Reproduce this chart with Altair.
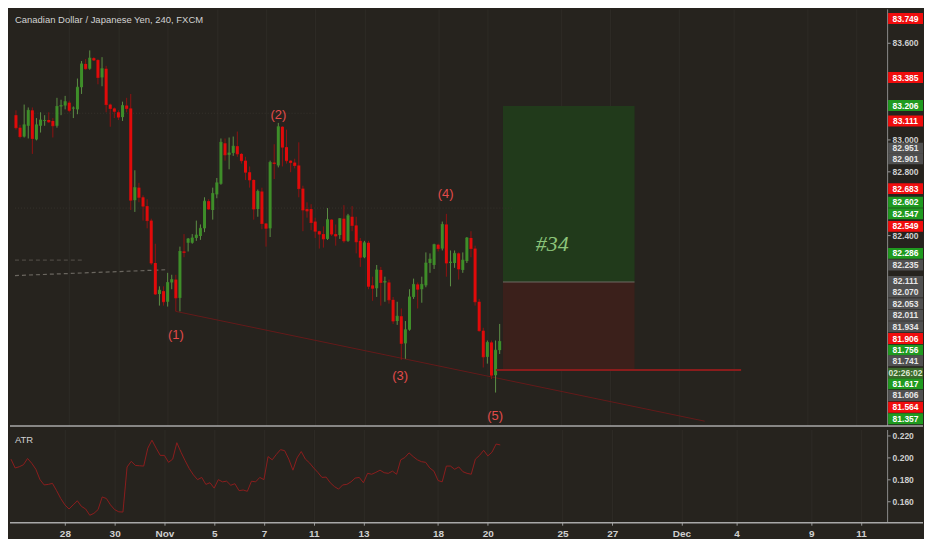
import altair as alt
import pandas as pd

TITLE = "Canadian Dollar / Japanese Yen, 240, FXCM"

opens = [83.149, 83.071, 83.016, 83.083, 83.179, 82.998, 83.083, 83.113, 83.119, 83.113,
         83.083, 83.203, 83.209, 83.227, 83.191, 83.185, 83.323, 83.468, 83.438, 83.504,
         83.492, 83.384, 83.438, 83.215, 83.191, 83.167, 83.137, 83.209, 83.191, 82.620,
         82.698, 82.638, 82.583, 82.493, 82.229, 82.036, 82.054, 81.988, 82.108, 82.126,
         82.012, 82.301, 82.355, 82.355, 82.385, 82.397, 82.445, 82.614, 82.559, 82.656,
         82.722, 82.974, 82.902, 82.914, 82.956, 82.908, 82.866, 82.794, 82.746, 82.565,
         82.674, 82.475, 82.445, 82.854, 82.836, 83.077, 82.950, 82.866, 82.854, 82.836,
         82.692, 82.565, 82.565, 82.487, 82.427, 82.409, 82.379, 82.499, 82.409, 82.403,
         82.505, 82.367, 82.517, 82.463, 82.367, 82.265, 82.355, 82.090, 82.072, 82.186,
         82.108, 82.108, 82.000, 81.868, 81.898, 81.729, 81.814, 82.018, 82.096, 82.066,
         82.090, 82.229, 82.217, 82.343, 82.319, 82.469, 82.229, 82.229, 82.289, 82.186,
         82.241, 82.385, 82.319, 81.988, 81.808, 81.645, 81.735, 81.531, 81.687]
closes = [83.071, 83.016, 83.089, 83.179, 83.004, 83.089, 83.119, 83.116, 83.107, 83.083,
          83.203, 83.209, 83.233, 83.179, 83.194, 83.323, 83.468, 83.438, 83.504, 83.492,
          83.384, 83.438, 83.215, 83.191, 83.173, 83.137, 83.209, 83.191, 82.620, 82.698,
          82.638, 82.583, 82.493, 82.229, 82.036, 82.060, 81.988, 82.108, 82.126, 82.012,
          82.301, 82.295, 82.379, 82.385, 82.403, 82.445, 82.614, 82.565, 82.662, 82.728,
          82.980, 82.902, 82.914, 82.956, 82.908, 82.866, 82.794, 82.746, 82.565, 82.674,
          82.475, 82.445, 82.854, 82.848, 83.077, 82.950, 82.866, 82.854, 82.836, 82.692,
          82.559, 82.553, 82.481, 82.427, 82.409, 82.379, 82.499, 82.409, 82.397, 82.505,
          82.367, 82.523, 82.463, 82.361, 82.265, 82.355, 82.084, 82.072, 82.186, 82.108,
          82.114, 82.000, 81.868, 81.898, 81.729, 81.814, 82.018, 82.096, 82.066, 82.096,
          82.229, 82.253, 82.343, 82.319, 82.469, 82.229, 82.235, 82.289, 82.192, 82.247,
          82.385, 82.319, 81.988, 81.808, 81.645, 81.735, 81.531, 81.687, 81.741]
highs = [83.179, 83.089, 83.215, 83.197, 83.197, 83.131, 83.167, 83.149, 83.167, 83.131,
         83.257, 83.245, 83.269, 83.239, 83.203, 83.377, 83.486, 83.498, 83.552, 83.510,
         83.498, 83.510, 83.456, 83.221, 83.197, 83.179, 83.233, 83.257, 83.281, 82.806,
         82.728, 82.650, 82.626, 82.505, 82.349, 82.084, 82.084, 82.168, 82.156, 82.156,
         82.331, 82.409, 82.385, 82.409, 82.493, 82.469, 82.638, 82.626, 82.698, 82.758,
         83.004, 83.004, 83.010, 83.016, 83.047, 82.914, 82.890, 82.830, 82.750, 82.686,
         82.698, 82.478, 82.866, 82.968, 83.101, 83.080, 83.059, 82.868, 82.878, 82.980,
         82.710, 82.607, 82.595, 82.511, 82.430, 82.457, 82.571, 82.502, 82.469, 82.508,
         82.589, 82.535, 82.583, 82.517, 82.385, 82.367, 82.367, 82.144, 82.217, 82.205,
         82.144, 82.126, 82.018, 81.988, 81.946, 81.868, 82.066, 82.132, 82.108, 82.144,
         82.295, 82.289, 82.349, 82.349, 82.487, 82.535, 82.307, 82.307, 82.295, 82.295,
         82.391, 82.427, 82.337, 82.006, 81.826, 81.747, 81.747, 81.747, 81.850]
lows = [83.059, 83.004, 83.010, 83.004, 82.908, 82.992, 83.041, 83.083, 83.101, 83.010,
        83.071, 83.149, 83.185, 83.167, 83.131, 83.155, 83.281, 83.432, 83.432, 83.486,
        83.341, 83.329, 83.167, 83.077, 83.131, 83.119, 83.113, 83.167, 82.559, 82.547,
        82.607, 82.493, 82.445, 82.217, 82.030, 81.964, 81.964, 81.958, 82.066, 81.928,
        81.928, 82.265, 82.301, 82.349, 82.367, 82.373, 82.421, 82.560, 82.499, 82.632,
        82.716, 82.866, 82.812, 82.896, 82.890, 82.848, 82.746, 82.698, 82.499, 82.517,
        82.439, 82.331, 82.391, 82.752, 82.824, 82.830, 82.848, 82.794, 82.818, 82.638,
        82.427, 82.511, 82.433, 82.385, 82.319, 82.325, 82.373, 82.397, 82.337, 82.379,
        82.355, 82.361, 82.427, 82.289, 82.205, 82.259, 82.066, 81.994, 82.018, 81.964,
        81.988, 81.976, 81.850, 81.844, 81.627, 81.633, 81.808, 82.006, 81.946, 81.982,
        82.078, 82.168, 82.192, 82.301, 82.307, 82.144, 82.084, 82.199, 82.126, 82.168,
        82.229, 82.265, 81.964, 81.802, 81.579, 81.603, 81.507, 81.423, 81.663]
atr_values = [0.1985, 0.1905, 0.1916, 0.1934, 0.1991, 0.1948, 0.1893, 0.1799, 0.1751, 0.1756,
              0.1765, 0.1699, 0.1628, 0.1570, 0.1533, 0.1570, 0.1607, 0.1556, 0.1533, 0.1476,
              0.1493, 0.1527, 0.1642, 0.1628, 0.1570, 0.1527, 0.1507, 0.1505, 0.1914, 0.1965,
              0.1928, 0.1925, 0.1922, 0.2085, 0.2157, 0.2085, 0.2019, 0.2019, 0.1956, 0.1985,
              0.2134, 0.2048, 0.1971, 0.1899, 0.1842, 0.1799, 0.1819, 0.1756, 0.1771, 0.1722,
              0.1799, 0.1779, 0.1785, 0.1748, 0.1762, 0.1699, 0.1705, 0.1693, 0.1785, 0.1779,
              0.1819, 0.1799, 0.2008, 0.1979, 0.2028, 0.2071, 0.2062, 0.1985, 0.1885, 0.1996,
              0.2054, 0.1985, 0.1951, 0.1905, 0.1865, 0.1819, 0.1822, 0.1771, 0.1736, 0.1713,
              0.1751, 0.1756, 0.1779, 0.1813, 0.1819, 0.1771, 0.1856, 0.1848, 0.1865, 0.1885,
              0.1862, 0.1856, 0.1876, 0.1848, 0.1979, 0.2000, 0.2042, 0.2008, 0.1979, 0.1962,
              0.1956, 0.1905, 0.1876, 0.1791, 0.1779, 0.1922, 0.1922, 0.1893, 0.1914, 0.1871,
              0.1856, 0.1848, 0.1985, 0.2019, 0.2065, 0.2014, 0.2048, 0.2122, 0.2114]

tick_index = [13, 25, 37, 49, 61, 73, 85, 103, 115, 133, 145, 161.7, 175, 193, 205]
tick_text = ["28", "30", "Nov", "5", "7", "11", "13", "18", "20", "25", "27", "Dec", "4", "9", "11"]
price_ticks = [83.6, 83.0, 82.8, 82.4]
atr_ticks = [0.16, 0.18, 0.20, 0.22]

wave_text = ["(1)", "(2)", "(3)", "(4)", "(5)"]
wave_index = [39.0, 64.0, 93.7, 104.8, 116.9]
wave_price = [81.784, 83.149, 81.525, 82.656, 81.278]

trend_index = [39, 168]
trend_price = [81.928, 81.245]

pos_index = [118.8, 150.9]
pos_target, pos_entry, pos_stop = 83.206, 82.111, 81.564
stop_line_index = [117.1, 176.9]
trade_label, trade_label_index, trade_label_price = "#34", 130.8, 82.347

label_text = ["83.749", "83.385", "83.206", "83.111", "82.951", "82.901", "82.683", "82.602",
              "82.547", "82.549", "82.286", "82.235", "82.111", "82.070", "82.053", "82.011",
              "81.934", "81.906", "81.756", "81.741", "02:26:02", "81.617", "81.606", "81.564",
              "81.357"]
label_price = [83.750, 83.383, 83.209, 83.113, 82.944, 82.878, 82.692, 82.607,
               82.535, 82.457, 82.289, 82.217, 82.114, 82.048, 81.976, 81.904,
               81.832, 81.759, 81.687, 81.621, 81.543, 81.477, 81.405, 81.332,
               81.260]
label_kind = ["red", "red", "green", "red", "gray", "gray", "red", "green",
              "green", "red", "green", "gray", "gray", "gray", "gray", "gray",
              "gray", "red", "green", "gray", "timer", "green", "gray", "red",
              "green"]

# dashed drawing lines: (segment, index, price)
dash_seg = ["c", "c", "d", "d"]
dash_index = [-0.24, 16.8, -0.24, 36.4]
dash_price = [82.247, 82.247, 82.151, 82.187]
dot_seg = ["a", "a", "b", "b"]
dot_index = [4.5, 73.7, -0.24, 121.0]
dot_price = [83.161, 83.161, 82.571, 82.571]

# ---------------- styling ----------------
BG = "#26231e"
GRID = "#2e2b26"
TXT = "#cfcfcf"
W, H_MAIN, H_ATR = 880, 418, 93
FONT = "Liberation Sans"

kind_bg = {"red": "#f00d0d", "green": "#1f9a1f", "gray": "#505050", "timer": "#3b6a2b"}
kind_fg = {"red": "#ffffff", "green": "#ffffff", "gray": "#e6e6e6", "timer": "#dbe8d2"}

candles = pd.DataFrame({"i": list(range(len(closes))), "open": opens, "high": highs,
                        "low": lows, "close": closes})
up = candles["close"] >= candles["open"]
candles["body"] = up.map({True: "#3e8e29", False: "#e10a0a"})
candles["wick"] = up.map({True: "#5c8f45", False: "#8f1212"})

XS = alt.Scale(domain=[-0.24, 211.3], nice=False, zero=False)
YS = alt.Scale(domain=[81.218, 83.8105], nice=False, zero=False)
x_axis_main = alt.Axis(values=tick_index, grid=True, gridColor=GRID, labels=False,
                       ticks=False, domain=False, title=None)
y_axis_main = alt.Axis(orient="right", values=price_ticks, format=".3f", grid=False,
                       title=None, labelColor=TXT, labelFontSize=8.5, labelFont=FONT,
                       labelFontWeight="bold", tickColor="#9a9a9a", tickSize=3,
                       labelPadding=2, domainColor="#8a8a8a")


def X(f):
    return alt.X(f"{f}:Q", scale=XS, axis=x_axis_main)


def Y(f):
    return alt.Y(f"{f}:Q", scale=YS, axis=y_axis_main)


pos_df = pd.DataFrame({"x1": [pos_index[0], pos_index[0]], "x2": [pos_index[1], pos_index[1]],
                       "y1": [pos_entry, pos_stop], "y2": [pos_target, pos_entry],
                       "c": ["#213a1b", "#3b201b"]})
zones = alt.Chart(pos_df).mark_rect().encode(
    x=X("x1"), x2="x2", y=Y("y1"), y2="y2", color=alt.Color("c:N", scale=None))
entry_line = alt.Chart(pd.DataFrame({"x1": [pos_index[0]], "x2": [pos_index[1]], "y": [pos_entry]})
                       ).mark_rule(color="#6e6a63", strokeWidth=1).encode(x=X("x1"), x2="x2", y=Y("y"))
stop_line = alt.Chart(pd.DataFrame({"x1": [stop_line_index[0]], "x2": [stop_line_index[1]], "y": [pos_stop]})
                      ).mark_rule(color="#8a1c1c", strokeWidth=2).encode(x=X("x1"), x2="x2", y=Y("y"))

trend = alt.Chart(pd.DataFrame({"i": trend_index, "p": trend_price})).mark_line(
    color="#641a1a", strokeWidth=1, clip=True).encode(x=X("i"), y=Y("p"))

dash_df = pd.DataFrame({"seg": dash_seg, "i": dash_index, "p": dash_price,
                        "c": ["#4c4842", "#4c4842", "#6a665f", "#6a665f"]})
dashed = alt.Chart(dash_df).mark_line(strokeDash=[4, 3], strokeWidth=1.2).encode(
    x=X("i"), y=Y("p"), detail="seg:N", color=alt.Color("c:N", scale=None))
dot_df = pd.DataFrame({"seg": dot_seg, "i": dot_index, "p": dot_price})
dotted = alt.Chart(dot_df).mark_line(strokeDash=[1, 2], strokeWidth=1, color="#36332d").encode(
    x=X("i"), y=Y("p"), detail="seg:N")

wicks = alt.Chart(candles).mark_rule(strokeWidth=1).encode(
    x=X("i"), y=Y("low"), y2="high", color=alt.Color("wick:N", scale=None))
bodies = alt.Chart(candles).mark_bar(size=3).encode(
    x=X("i"), y=Y("open"), y2="close", color=alt.Color("body:N", scale=None))
doji = alt.Chart(candles).mark_tick(orient="horizontal", size=3, thickness=1).encode(
    x=X("i"), y=Y("close"), color=alt.Color("body:N", scale=None))

waves = alt.Chart(pd.DataFrame({"i": wave_index, "p": wave_price, "t": wave_text})).mark_text(
    fontSize=13, font=FONT, color="#e24b4b").encode(x=X("i"), y=Y("p"), text="t:N")
trade_txt = alt.Chart(pd.DataFrame({"i": [trade_label_index], "p": [trade_label_price],
                                    "t": [trade_label]})).mark_text(
    fontSize=22, font="Liberation Serif", fontStyle="italic", color="#8cc47a").encode(
    x=X("i"), y=Y("p"), text="t:N")

lab_df = pd.DataFrame({"t": label_text, "p": label_price, "k": label_kind})
lab_df["bg"] = lab_df["k"].map(kind_bg)
lab_df["fg"] = lab_df["k"].map(kind_fg)
lab_box = alt.Chart(lab_df).mark_tick(orient="horizontal", size=35, thickness=11, opacity=1).encode(
    x=alt.value(898.5), y=Y("p"), color=alt.Color("bg:N", scale=None))
lab_txt = alt.Chart(lab_df).mark_text(fontSize=8.5, font=FONT, fontWeight="bold",
                                      align="center", baseline="middle").encode(
    x=alt.value(898.5), y=Y("p"), text="t:N", color=alt.Color("fg:N", scale=None))

one = pd.DataFrame({"t": [TITLE]})
title_txt = alt.Chart(one).mark_text(align="left", baseline="middle", fontSize=9.5, font=FONT,
                                     color="#d2d2d2").encode(
    x=alt.value(5), y=alt.value(11), text="t:N")
sep_main = alt.Chart(one).mark_rule(color="#a8a8a8", strokeWidth=1.5).encode(
    x=alt.value(0), x2=alt.value(916), y=alt.value(H_MAIN + 0.5))

main = alt.layer(zones, entry_line, dotted, dashed, trend, wicks, bodies, doji, stop_line,
                 waves, trade_txt, lab_box, lab_txt, title_txt, sep_main
                 ).properties(width=W, height=H_MAIN)

# ---------------- ATR panel ----------------
label_expr = " : ".join(f"datum.value == {v} ? '{t}'" for v, t in zip(tick_index, tick_text)) + " : ''"
x_axis_atr = alt.Axis(values=tick_index, labelExpr=label_expr, grid=True, gridColor=GRID,
                      domain=False, tickColor="#9a9a9a", tickSize=3, labelColor=TXT,
                      labelFontSize=10, labelFont=FONT, labelFontWeight="bold",
                      labelPadding=3, title=None, labelFlush=False)
YA = alt.Scale(domain=[0.1413, 0.2254], nice=False, zero=False)
y_axis_atr = alt.Axis(orient="right", values=atr_ticks, format=".3f", grid=False, title=None,
                      labelColor=TXT, labelFontSize=8.5, labelFont=FONT, labelFontWeight="bold",
                      tickColor="#9a9a9a", tickSize=3, labelPadding=2, domainColor="#8a8a8a")

atr_df = pd.DataFrame({"i": list(range(len(atr_values))), "atr": atr_values})
atr_line = alt.Chart(atr_df).mark_line(color="#8b1d1d", strokeWidth=1).encode(
    x=alt.X("i:Q", scale=XS, axis=x_axis_atr),
    y=alt.Y("atr:Q", scale=YA, axis=y_axis_atr))
atr_lbl = alt.Chart(pd.DataFrame({"t": ["ATR"]})).mark_text(
    align="left", baseline="middle", fontSize=9.5, font=FONT, color="#d2d2d2").encode(
    x=alt.value(5), y=alt.value(11), text="t:N")
sep_atr = alt.Chart(one).mark_rule(color="#a8a8a8", strokeWidth=1.5).encode(
    x=alt.value(0), x2=alt.value(916), y=alt.value(H_ATR + 0.5))

atr = alt.layer(atr_line, atr_lbl, sep_atr).properties(width=W, height=H_ATR)

chart = alt.vconcat(main, atr, spacing=2).properties(
    background=BG, padding=0
).configure_view(stroke=None)

chart.save("out.html", embed_options={"renderer": "svg", "actions": False})
